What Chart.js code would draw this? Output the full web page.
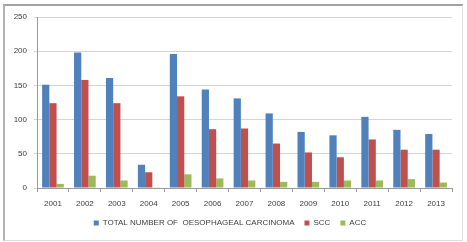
<!DOCTYPE html>
<html>
<head>
<meta charset="utf-8">
<script src="https://cdn.jsdelivr.net/npm/chart.js@4/dist/chart.umd.min.js"></script>
<style>
    html, body { margin: 0; padding: 0; background: #fff; }
    #wrap { position: relative; width: 467px; height: 242px; overflow: hidden; }
    #frame {
        position: absolute; left: 3px; top: 4px; width: 457px; height: 234px;
        border-top: 2px solid #a0a0a0; border-left: 2px solid #b4b4b4;
        border-right: 1px solid #e4e4e4; border-bottom: 1px solid #dcdcdc;
    }
    #chart { position: absolute; left: 0; top: 0; }
</style>
</head>
<body>
<div id="wrap">
    <div id="frame"></div>
    <canvas id="chart" width="467" height="242"></canvas>
</div>
<script>
    // years on the x axis
    const years = ["2001", "2002", "2003", "2004", "2005", "2006", "2007",
        "2008", "2009", "2010", "2011", "2012", "2013"];
    // values
    const totalCases = [151, 198, 161, 34, 196, 144, 131, 109, 82, 77, 104, 85, 79];
    const sccCases = [124, 158, 124, 23, 134, 86, 87, 65, 52, 45, 71, 56, 56];
    const accCases = [6, 18, 11, 1, 20, 14, 11, 9, 9, 11, 11, 13, 8];
    const yTicks = [0, 50, 100, 150, 200, 250];

    const FONT = "'Liberation Sans', Arial, sans-serif";

    new Chart(document.getElementById("chart"), {
        type: "bar",
        data: {
            labels: years,
            datasets: [
                { label: "TOTAL NUMBER OF  OESOPHAGEAL CARCINOMA", data: totalCases, backgroundColor: "#4f81bd" },
                { label: "SCC", data: sccCases, backgroundColor: "#c0504d" },
                { label: "ACC", data: accCases, backgroundColor: "#9bbb59" },
            ],
        },
        options: {
            responsive: false,
            animation: false,
            layout: { padding: { left: 8, right: 15, top: 17, bottom: 5 } },
            datasets: { bar: { categoryPercentage: 0.68, barPercentage: 1 } },
            plugins: {
                tooltip: { enabled: false },
                legend: {
                    position: "bottom",
                    labels: {
                        boxWidth: 5, boxHeight: 5, padding: 10,
                        color: "#404040",
                        font: { family: FONT, size: 8 },
                    },
                },
            },
            scales: {
                x: {
                    grid: { display: true, drawOnChartArea: false, offset: true, tickLength: 4, color: "#9a9a9a" },
                    border: { color: "#9a9a9a" },
                    ticks: { color: "#404040", font: { family: FONT, size: 8 }, padding: 7, maxRotation: 0 },
                    afterFit: s => { s.height = 21; },
                },
                y: {
                    min: 0, max: 250,
                    afterBuildTicks: s => { s.ticks = yTicks.map(v => ({ value: v })); },
                    grid: { color: "#d4d4d4", tickLength: 3 },
                    border: { color: "#9a9a9a" },
                    ticks: { color: "#404040", font: { family: FONT, size: 8 }, padding: 7 },
                    afterFit: s => { s.width = 29; },
                },
            },
        },
    });
</script>
</body>
</html>
